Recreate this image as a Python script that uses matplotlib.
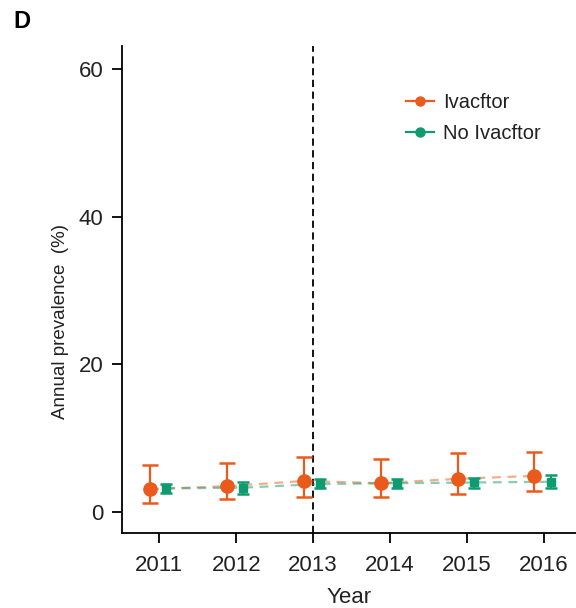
import matplotlib
matplotlib.use("Agg")
import matplotlib.pyplot as plt
from matplotlib.lines import Line2D
import numpy as np

plt.rcParams['font.family'] = ['Liberation Sans', 'DejaVu Sans']

years = [2011, 2012, 2013, 2014, 2015, 2016]

# Ivacaftor-treated group: annual prevalence (%) with 95% CI
iva_mean = [3.1, 3.5, 4.2, 3.9, 4.5, 4.9]
iva_low = [1.2, 1.7, 2.0, 2.0, 2.5, 2.8]
iva_high = [6.4, 6.6, 7.5, 7.2, 8.0, 8.2]

# Untreated group
no_iva_mean = [3.2, 3.3, 3.8, 3.9, 4.0, 4.1]
no_iva_low = [2.55, 2.5, 3.2, 3.3, 3.3, 3.3]
no_iva_high = [3.8, 4.1, 4.5, 4.5, 4.6, 5.0]

series_labels = ["Ivacftor", "No Ivacftor"]
ytick_values = [0, 20, 40, 60]
intervention_year = 2013

orange = "#EA5A1B"
green = "#0F9B70"

fig = plt.figure(figsize=(5.76, 6.08), dpi=100)
ax = fig.add_axes([0.2113, 0.1238, 0.7887, 0.8005])

x = np.array(years, dtype=float)
x_iva = x - 0.12
x_no = x + 0.09

def draw_series(xs, mean, low, high, color, marker, msize, capsize):
    mean = np.asarray(mean)
    err = np.vstack([mean - np.asarray(low), np.asarray(high) - mean])
    ax.plot(xs, mean, linestyle=(0, (4, 3)), color=color, alpha=0.5,
            linewidth=1.6, zorder=2)
    ax.errorbar(xs, mean, yerr=err, fmt=marker, color=color, ecolor=color,
                markersize=msize, capsize=capsize, capthick=1.8,
                elinewidth=1.6, zorder=3)

draw_series(x_iva, iva_mean, iva_low, iva_high, orange, 'o', 9.5, 5.5)
draw_series(x_no, no_iva_mean, no_iva_low, no_iva_high, green, 's', 6.0, 4.0)

ax.axvline(intervention_year, color='black', linestyle=(0, (4, 2.5)),
           linewidth=1.3, zorder=1)

ax.set_xlim(2010.51, 2016.42)
ax.set_ylim(-2.81, 63.16)
ax.set_xticks(years)
ax.set_xticklabels([str(y) for y in years])
ax.set_yticks(ytick_values)

for side in ['top', 'right']:
    ax.spines[side].set_visible(False)
for side in ['left', 'bottom']:
    ax.spines[side].set_linewidth(1.3)

ax.tick_params(axis='both', direction='out', length=7, width=1.3,
               labelsize=16, colors='black', labelcolor='#222222')
ax.tick_params(axis='x', pad=9)
ax.tick_params(axis='y', pad=6)

ax.set_xlabel("Year", fontsize=16, color='#222222', labelpad=8)
ax.set_ylabel("Annual prevalence  (%)", fontsize=13.5, color='#222222')
ax.yaxis.set_label_coords(-0.115, 0.435)

handles = [
    Line2D([0], [0], color=orange, marker='o', markersize=6.5, linewidth=1.6),
    Line2D([0], [0], color=green, marker='o', markersize=6.5, linewidth=1.6),
]
leg = ax.legend(handles, series_labels, loc='upper left',
                bbox_to_anchor=(0.585, 0.94), frameon=False, fontsize=14.5,
                handlelength=1.4, handletextpad=0.45, labelspacing=0.6)
for t in leg.get_texts():
    t.set_color('#222222')

fig.text(0.024, 0.965, "D", fontsize=17, fontweight='bold', va='center',
         ha='left', color='black')

fig.savefig("out.png", dpi=100)
